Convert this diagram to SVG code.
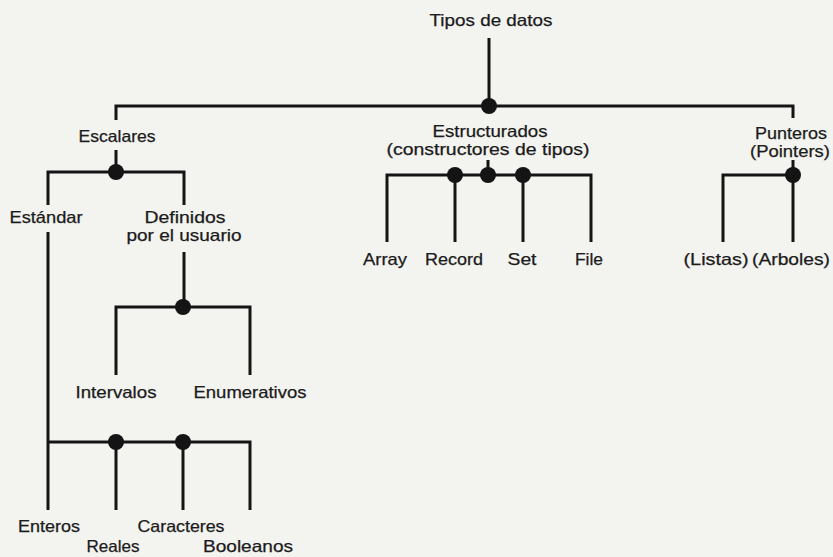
<svg xmlns="http://www.w3.org/2000/svg" width="833" height="557" viewBox="0 0 833 557">
  <style>
    .lbl { font-family: "Liberation Sans", Arial, sans-serif; font-size: 16.5px; fill: #1b1b1b; text-anchor: middle; stroke: #1b1b1b; stroke-width: 0.25; }
    .wire { fill: none; stroke: #141414; stroke-width: 3; stroke-linecap: butt; stroke-linejoin: miter; }
    .joint { fill: #141414; }
  </style>
  <rect width="833" height="557" fill="#f3f3f0"/>

  <!-- tree connectors -->
  <g id="connectors">
    <!-- root -->
    <path class="wire" d="M489 38 V106"/>
    <path class="wire" d="M116 120 V106 H793 V118"/>
    <!-- Escalares -->
    <path class="wire" d="M116 150 V172"/>
    <path class="wire" d="M48 205 V172 H184 V205"/>
    <!-- Estándar -->
    <path class="wire" d="M48 232 V510"/>
    <path class="wire" d="M48 442 H250 V510"/>
    <path class="wire" d="M116 442 V510"/>
    <path class="wire" d="M183 442 V510"/>
    <!-- Definidos por el usuario -->
    <path class="wire" d="M184 252 V307"/>
    <path class="wire" d="M116 375 V307 H250 V375"/>
    <!-- Estructurados -->
    <path class="wire" d="M488 160 V175"/>
    <path class="wire" d="M387 242 V175 H591 V242"/>
    <path class="wire" d="M455 175 V242"/>
    <path class="wire" d="M523 175 V242"/>
    <!-- Punteros -->
    <path class="wire" d="M793 160 V175 H723 V242"/>
    <path class="wire" d="M793 175 V242"/>
    <!-- junction dots -->
    <circle class="joint" cx="489" cy="106" r="8"/>
    <circle class="joint" cx="116" cy="172" r="8"/>
    <circle class="joint" cx="183" cy="307" r="8"/>
    <circle class="joint" cx="116" cy="442" r="8"/>
    <circle class="joint" cx="183" cy="442" r="8"/>
    <circle class="joint" cx="455" cy="175" r="8"/>
    <circle class="joint" cx="488" cy="175" r="8"/>
    <circle class="joint" cx="523" cy="175" r="8"/>
    <circle class="joint" cx="793" cy="175" r="8"/>
  </g>

  <g id="tipos-de-datos"><text class="lbl" x="491" y="26" textLength="123" lengthAdjust="spacingAndGlyphs">Tipos de datos</text></g>
  <g id="escalares"><text class="lbl" x="117" y="142" textLength="77" lengthAdjust="spacingAndGlyphs">Escalares</text></g>
  <g id="estandar"><text class="lbl" x="46" y="223" textLength="73" lengthAdjust="spacingAndGlyphs">Estándar</text></g>
  <g id="definidos">
    <text class="lbl" x="185" y="223" textLength="81" lengthAdjust="spacingAndGlyphs">Definidos</text>
    <text class="lbl" x="184" y="241" textLength="115" lengthAdjust="spacingAndGlyphs">por el usuario</text>
  </g>
  <g id="intervalos"><text class="lbl" x="116" y="398" textLength="81" lengthAdjust="spacingAndGlyphs">Intervalos</text></g>
  <g id="enumerativos"><text class="lbl" x="250" y="398" textLength="113" lengthAdjust="spacingAndGlyphs">Enumerativos</text></g>
  <g id="enteros"><text class="lbl" x="49" y="532" textLength="62" lengthAdjust="spacingAndGlyphs">Enteros</text></g>
  <g id="reales"><text class="lbl" x="113" y="552" textLength="53" lengthAdjust="spacingAndGlyphs">Reales</text></g>
  <g id="caracteres"><text class="lbl" x="181" y="532" textLength="87" lengthAdjust="spacingAndGlyphs">Caracteres</text></g>
  <g id="booleanos"><text class="lbl" x="248" y="552" textLength="90" lengthAdjust="spacingAndGlyphs">Booleanos</text></g>
  <g id="estructurados">
    <text class="lbl" x="490" y="137" textLength="115" lengthAdjust="spacingAndGlyphs">Estructurados</text>
    <text class="lbl" x="488" y="155" textLength="203" lengthAdjust="spacingAndGlyphs">(constructores de tipos)</text>
  </g>
  <g id="array"><text class="lbl" x="385" y="265" textLength="44" lengthAdjust="spacingAndGlyphs">Array</text></g>
  <g id="record"><text class="lbl" x="454" y="265" textLength="58" lengthAdjust="spacingAndGlyphs">Record</text></g>
  <g id="set"><text class="lbl" x="522" y="265" textLength="29" lengthAdjust="spacingAndGlyphs">Set</text></g>
  <g id="file"><text class="lbl" x="589" y="265" textLength="28" lengthAdjust="spacingAndGlyphs">File</text></g>
  <g id="punteros">
    <text class="lbl" x="791" y="139" textLength="72" lengthAdjust="spacingAndGlyphs">Punteros</text>
    <text class="lbl" x="790" y="157" textLength="80" lengthAdjust="spacingAndGlyphs">(Pointers)</text>
  </g>
  <g id="listas"><text class="lbl" x="716" y="265" textLength="65" lengthAdjust="spacingAndGlyphs">(Listas)</text></g>
  <g id="arboles"><text class="lbl" x="791" y="265" textLength="78" lengthAdjust="spacingAndGlyphs">(Arboles)</text></g>
</svg>
